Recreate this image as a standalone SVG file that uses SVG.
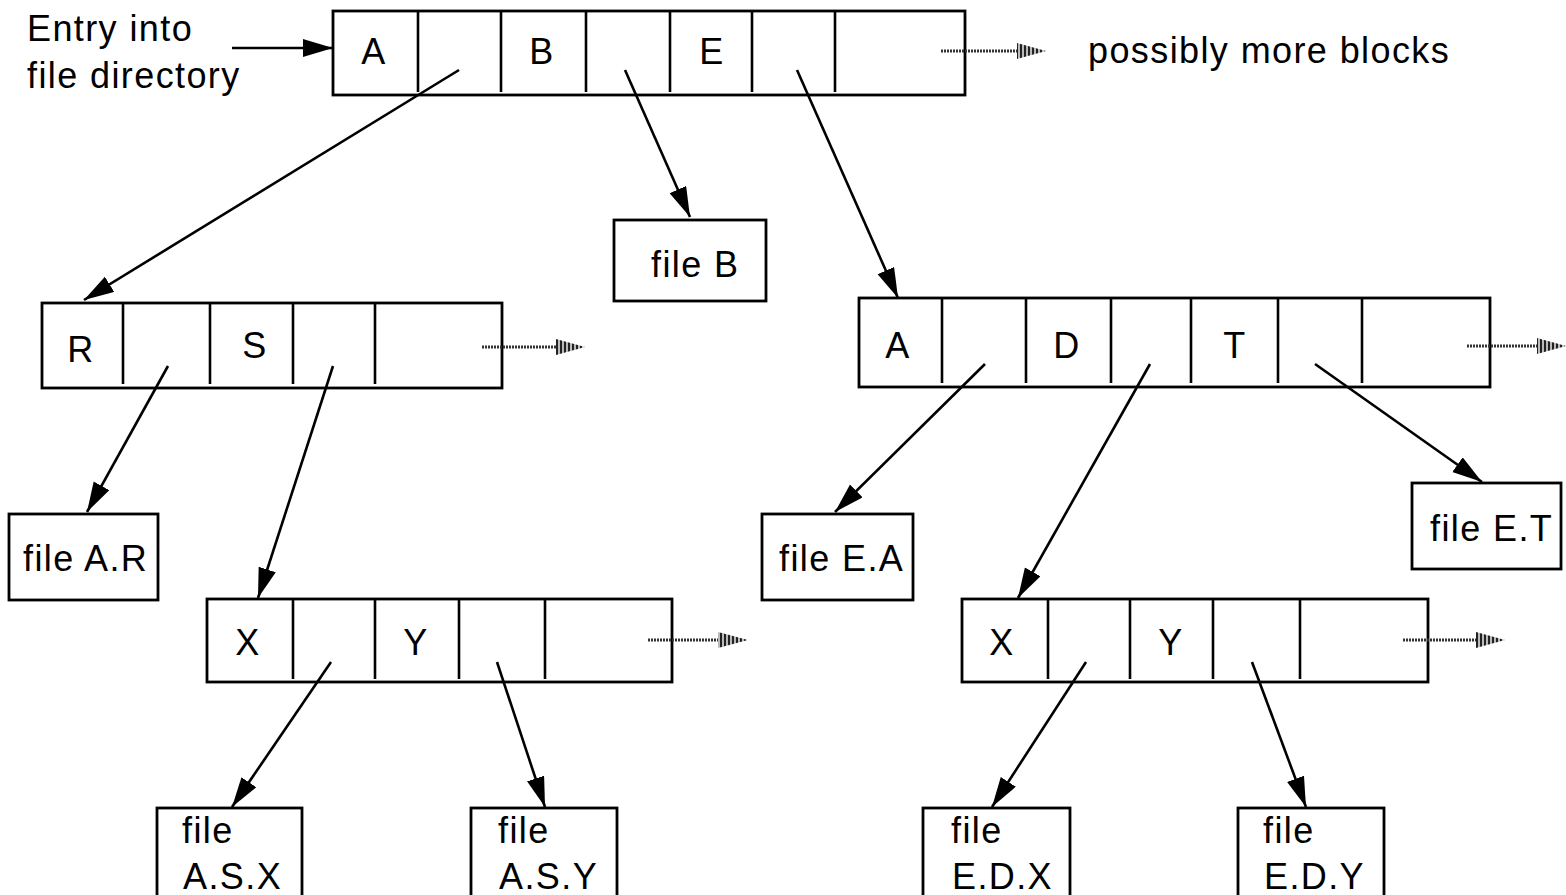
<svg xmlns="http://www.w3.org/2000/svg" width="1566" height="895" viewBox="0 0 1566 895">
<style>
text{font-family:"Liberation Sans",Arial,sans-serif;font-size:36px;letter-spacing:1.4px;fill:#000}
.c{text-anchor:middle}
.box{fill:#fff;stroke:#000;stroke-width:2.8}
.div{stroke:#000;stroke-width:2.6}
.arr{stroke:#000;stroke-width:2.6;fill:none;marker-end:url(#ah)}
.dot{stroke:#333;stroke-width:3;stroke-dasharray:2 1}
.dh{fill:url(#stripes)}
</style>
<defs>
<marker id="ah" markerUnits="userSpaceOnUse" markerWidth="32" markerHeight="20" refX="30" refY="9" orient="auto">
<path d="M0,0 L30,9 L0,18 z" fill="#000"/>
</marker>
<pattern id="stripes" patternUnits="userSpaceOnUse" width="4" height="4">
<rect width="4" height="4" fill="#bbb"/>
<rect width="2" height="4" fill="#222"/>
</pattern>
</defs>

<g id="entry-label">
<text x="27" y="41">Entry into</text>
<text x="27" y="88">file directory</text>
</g>
<text id="more-label" x="1088" y="63">possibly more blocks</text>

<g id="dir-root">
<rect class="box" x="333" y="11" width="632" height="84"/>
<line class="div" x1="418" y1="11" x2="418" y2="92"/>
<line class="div" x1="501" y1="11" x2="501" y2="92"/>
<line class="div" x1="586" y1="11" x2="586" y2="92"/>
<line class="div" x1="670" y1="11" x2="670" y2="92"/>
<line class="div" x1="752" y1="11" x2="752" y2="92"/>
<line class="div" x1="835" y1="11" x2="835" y2="92"/>
<text class="c" x="374" y="64">A</text>
<text class="c" x="542" y="64">B</text>
<text class="c" x="712" y="64">E</text>
</g>

<g id="file-B">
<rect class="box" x="614" y="220" width="152" height="81"/>
<text x="651" y="277">file B</text>
</g>

<g id="dir-A">
<rect class="box" x="42" y="303" width="460" height="85"/>
<line class="div" x1="123" y1="303" x2="123" y2="384"/>
<line class="div" x1="210" y1="303" x2="210" y2="384"/>
<line class="div" x1="293" y1="303" x2="293" y2="384"/>
<line class="div" x1="375" y1="303" x2="375" y2="384"/>
<text class="c" x="81" y="362">R</text>
<text class="c" x="255" y="358">S</text>
</g>

<g id="dir-E">
<rect class="box" x="859" y="298" width="631" height="89"/>
<line class="div" x1="942" y1="298" x2="942" y2="383"/>
<line class="div" x1="1026" y1="298" x2="1026" y2="383"/>
<line class="div" x1="1111" y1="298" x2="1111" y2="383"/>
<line class="div" x1="1191" y1="298" x2="1191" y2="383"/>
<line class="div" x1="1278" y1="298" x2="1278" y2="383"/>
<line class="div" x1="1362" y1="298" x2="1362" y2="383"/>
<text class="c" x="898" y="358">A</text>
<text class="c" x="1067" y="358">D</text>
<text class="c" x="1235" y="358">T</text>
</g>

<g id="file-AR">
<rect class="box" x="9" y="514" width="149" height="86"/>
<text x="23" y="571">file A.R</text>
</g>
<g id="file-EA">
<rect class="box" x="762" y="514" width="151" height="86"/>
<text x="779" y="571">file E.A</text>
</g>
<g id="file-ET">
<rect class="box" x="1412" y="483" width="149" height="86"/>
<text x="1430" y="541">file E.T</text>
</g>

<g id="dir-AS">
<rect class="box" x="207" y="599" width="465" height="83"/>
<line class="div" x1="293" y1="599" x2="293" y2="679"/>
<line class="div" x1="375" y1="599" x2="375" y2="679"/>
<line class="div" x1="459" y1="599" x2="459" y2="679"/>
<line class="div" x1="545" y1="599" x2="545" y2="679"/>
<text class="c" x="248" y="655">X</text>
<text class="c" x="416" y="655">Y</text>
</g>

<g id="dir-ED">
<rect class="box" x="962" y="599" width="466" height="83"/>
<line class="div" x1="1048" y1="599" x2="1048" y2="679"/>
<line class="div" x1="1130" y1="599" x2="1130" y2="679"/>
<line class="div" x1="1213" y1="599" x2="1213" y2="679"/>
<line class="div" x1="1300" y1="599" x2="1300" y2="679"/>
<text class="c" x="1002" y="655">X</text>
<text class="c" x="1171" y="655">Y</text>
</g>

<g id="file-ASX">
<rect class="box" x="157" y="808" width="145" height="100"/>
<text x="182" y="843">file</text>
<text x="183" y="889">A.S.X</text>
</g>
<g id="file-ASY">
<rect class="box" x="471" y="808" width="146" height="100"/>
<text x="498" y="843">file</text>
<text x="499" y="889">A.S.Y</text>
</g>
<g id="file-EDX">
<rect class="box" x="923" y="808" width="147" height="100"/>
<text x="951" y="843">file</text>
<text x="952" y="889">E.D.X</text>
</g>
<g id="file-EDY">
<rect class="box" x="1238" y="808" width="146" height="100"/>
<text x="1263" y="843">file</text>
<text x="1264" y="889">E.D.Y</text>
</g>

<g id="connectors">
<line class="arr" x1="232" y1="48" x2="333" y2="48"/>
<line class="arr" x1="459" y1="70" x2="84" y2="300"/>
<line class="arr" x1="625" y1="70" x2="690" y2="217"/>
<line class="arr" x1="797" y1="70" x2="898" y2="298"/>
<line class="arr" x1="168" y1="366" x2="87" y2="512"/>
<line class="arr" x1="333" y1="366" x2="258" y2="598"/>
<line class="arr" x1="985" y1="364" x2="835" y2="512"/>
<line class="arr" x1="1150" y1="364" x2="1018" y2="598"/>
<line class="arr" x1="1315" y1="364" x2="1482" y2="482"/>
<line class="arr" x1="331" y1="662" x2="232" y2="807"/>
<line class="arr" x1="497" y1="662" x2="545" y2="807"/>
<line class="arr" x1="1086" y1="662" x2="992" y2="807"/>
<line class="arr" x1="1252" y1="662" x2="1306" y2="807"/>

<line class="dot" x1="941" y1="51" x2="1017" y2="51"/>
<polygon class="dh" points="1017,43 1046,51 1017,59"/>
<line class="dot" x1="482" y1="347" x2="556" y2="347"/>
<polygon class="dh" points="556,339 585,347 556,355"/>
<line class="dot" x1="1467" y1="346" x2="1537" y2="346"/>
<polygon class="dh" points="1537,338 1566,346 1537,354"/>
<line class="dot" x1="648" y1="640" x2="718" y2="640"/>
<polygon class="dh" points="718,632 748,640 718,648"/>
<line class="dot" x1="1403" y1="640" x2="1476" y2="640"/>
<polygon class="dh" points="1476,632 1505,640 1476,648"/>
</g>
</svg>
